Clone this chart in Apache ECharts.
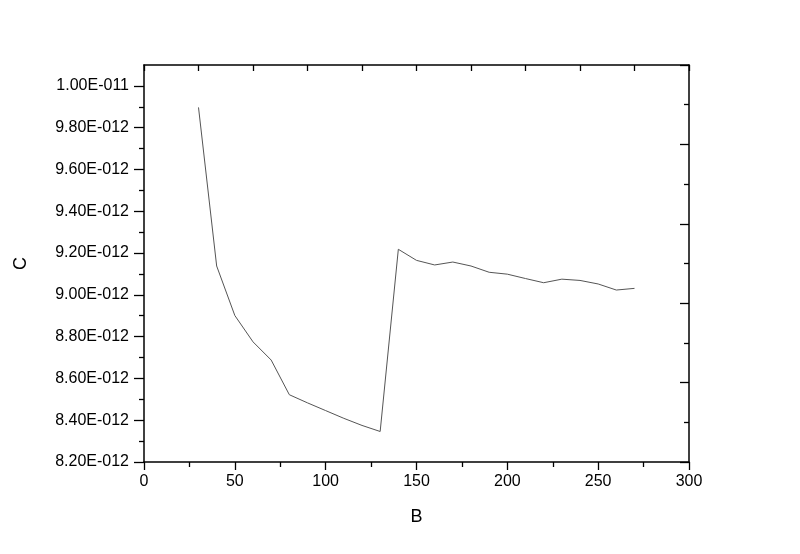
<!DOCTYPE html>
<html>
<head>
<meta charset="utf-8">
<script src="https://cdn.jsdelivr.net/npm/echarts@6/dist/echarts.min.js"></script>
<style>
  html, body { margin: 0; padding: 0; background: #fff; }
  #chart { width: 800px; height: 554px; }
</style>
</head>
<body>
<div id="chart"></div>
<script>
// B values (x) and C values (y)
var bValues = [30, 40, 50, 60, 70, 80, 90, 100, 110, 120, 130, 140, 150, 160, 170, 180, 190, 200, 210, 220, 230, 240, 250, 260, 270]
var cValues = [9.897e-12, 9.138e-12, 8.901e-12, 8.775e-12, 8.688e-12, 8.522e-12, 8.483e-12, 8.446e-12, 8.409e-12, 8.375e-12, 8.346e-12,
  9.218e-12, 9.165e-12, 9.143e-12, 9.157e-12, 9.138e-12, 9.108e-12, 9.099e-12, 9.078e-12, 9.058e-12, 9.075e-12, 9.069e-12, 9.052e-12, 9.023e-12, 9.031e-12]
// minor tick positions on the C axis (between labelled ticks)
var cMinorTicks = [8.3e-12, 8.5e-12, 8.7e-12, 8.9e-12, 9.1e-12, 9.3e-12, 9.5e-12, 9.7e-12, 9.9e-12]

var FONT = 'Liberation Sans, Arial, sans-serif'

function fmtExp(v) {
  var s = v.toExponential(2)
  var parts = s.split('e')
  var exp = parseInt(parts[1], 10)
  var sign = exp < 0 ? '-' : '+'
  var digits = String(Math.abs(exp))
  while (digits.length < 3) digits = '0' + digits
  return parts[0] + 'E' + sign + digits
}

var chart = echarts.init(document.getElementById('chart'))

var axisLine = { show: true, onZero: false, lineStyle: { color: '#000', width: 1.5 } }
var tickStyle = { color: '#000', width: 1.3 }

chart.setOption({
  animation: false,
  backgroundColor: '#fff',
  grid: { left: 144, right: 111, top: 65, bottom: 92, containLabel: false },
  xAxis: [{
    type: 'value',
    position: 'bottom',
    min: 0,
    max: 300,
    interval: 50,
    name: 'B',
    nameLocation: 'middle',
    nameGap: 46,
    nameTextStyle: { fontFamily: FONT, fontSize: 18, color: '#000' },
    axisLine: axisLine,
    axisTick: { show: true, inside: false, length: 8, lineStyle: tickStyle },
    minorTick: { show: true, splitNumber: 2, length: 5, lineStyle: tickStyle },
    axisLabel: { fontFamily: FONT, fontSize: 16, color: '#000', margin: 12 },
    splitLine: { show: false }
  }, {
    type: 'value',
    position: 'top',
    min: 0,
    max: 300,
    interval: 30,
    axisLine: axisLine,
    axisTick: { show: true, inside: true, length: 6, lineStyle: tickStyle },
    axisLabel: { show: false },
    splitLine: { show: false }
  }],
  yAxis: [{
    type: 'value',
    position: 'left',
    min: 8.2e-12,
    max: 1.01e-11,
    interval: 2e-13,
    name: 'C',
    nameLocation: 'middle',
    nameGap: 114,
    nameTextStyle: { fontFamily: FONT, fontSize: 18, color: '#000' },
    axisLine: axisLine,
    axisTick: { show: true, inside: false, length: 10, lineStyle: tickStyle },
    axisLabel: {
      fontFamily: FONT, fontSize: 16, color: '#000', margin: 15,
      showMaxLabel: false,
      formatter: fmtExp
    },
    splitLine: { show: false }
  }, {
    type: 'value',
    position: 'right',
    min: 0,
    max: 100,
    interval: 20,
    axisLine: axisLine,
    axisTick: { show: true, inside: true, length: 9, lineStyle: tickStyle },
    minorTick: { show: true, splitNumber: 2, length: 5, lineStyle: tickStyle },
    axisLabel: { show: false },
    splitLine: { show: false }
  }, {
    // minor ticks of the left axis
    type: 'value',
    position: 'left',
    min: 8.2e-12,
    max: 1.01e-11,
    axisLine: { show: false },
    axisTick: { show: true, inside: false, length: 5, lineStyle: tickStyle, customValues: cMinorTicks },
    axisLabel: { show: false },
    splitLine: { show: false }
  }],
  series: [{
    type: 'line',
    xAxisIndex: 0,
    yAxisIndex: 0,
    data: bValues.map(function (b, i) { return [b, cValues[i]] }),
    symbol: 'none',
    lineStyle: { color: '#555', width: 1 }
  }]
})
</script>
</body>
</html>
